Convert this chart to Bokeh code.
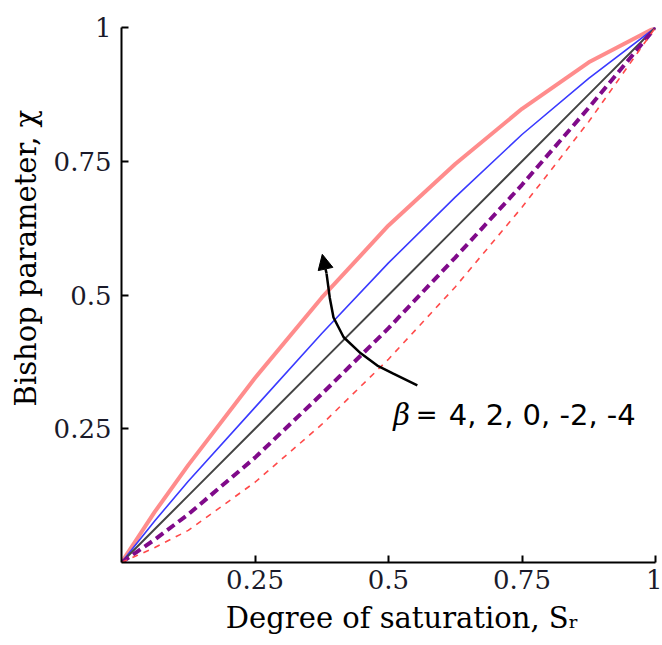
from bokeh.plotting import figure
from bokeh.models import FixedTicker, Label, Arrow, NormalHead, Range1d
from bokeh.embed import file_html
from bokeh.resources import INLINE

# Degree of saturation (x) and Bishop parameter (y) for beta = 4, 2, 0, -2, -4
sr = [0.0, 0.0625, 0.125, 0.25, 0.375, 0.5, 0.625, 0.75, 0.875, 1.0]
chi_b4 = [0.0, 0.095, 0.182, 0.345, 0.495, 0.63, 0.745, 0.848, 0.935, 1.0]
chi_b2 = [0.0, 0.078, 0.152, 0.29, 0.428, 0.56, 0.683, 0.80, 0.905, 1.0]
chi_b0 = [0.0, 0.0625, 0.125, 0.25, 0.375, 0.5, 0.625, 0.75, 0.875, 1.0]
chi_bm2 = [0.0, 0.043, 0.09, 0.196, 0.315, 0.438, 0.57, 0.706, 0.85, 1.0]
chi_bm4 = [0.0, 0.028, 0.06, 0.15, 0.258, 0.38, 0.515, 0.664, 0.824, 1.0]

tick_vals = [0.25, 0.5, 0.75, 1.0]
tick_text = ["0.25", "0.5", "0.75", "1"]

# annotation arrow path
arrow_x = [0.554, 0.509, 0.479, 0.448, 0.416, 0.397, 0.390, 0.384]
arrow_y = [0.331, 0.353, 0.368, 0.391, 0.421, 0.458, 0.495, 0.540]

p = figure(width=662, height=645, output_backend="svg", toolbar_location=None,
           x_range=Range1d(0, 1), y_range=Range1d(0, 1),
           min_border_left=121, min_border_right=7, min_border_top=27, min_border_bottom=83)
p.outline_line_color = None
p.xgrid.visible = False
p.ygrid.visible = False
p.background_fill_color = "white"

p.line(sr, chi_b4, line_color="#ff8080", line_width=4, line_alpha=0.9)
p.line(sr, chi_b2, line_color="#3a3aff", line_width=1.6)
p.line(sr, chi_b0, line_color="#444444", line_width=2)
p.line(sr, chi_bm2, line_color="#800a8a", line_width=4, line_dash="9 5")
p.line(sr, chi_bm4, line_color="#ff4a4a", line_width=1.6, line_dash="6 6")

p.line(arrow_x, arrow_y, line_color="black", line_width=2.5)
p.add_layout(Arrow(end=NormalHead(size=15, fill_color="black", line_color="black"),
                   x_start=arrow_x[-1], y_start=arrow_y[-1],
                   x_end=0.376, y_end=0.576, line_color="black", line_width=2.5))

for ax in (p.xaxis[0], p.yaxis[0]):
    ax.ticker = FixedTicker(ticks=tick_vals)
    ax.major_label_overrides = dict(zip(tick_vals, tick_text))
    ax.major_tick_in = 7
    ax.major_tick_out = 0
    ax.minor_tick_in = 0
    ax.minor_tick_out = 0
    ax.axis_line_width = 2
    ax.major_tick_line_width = 2
    ax.axis_line_color = "black"
    ax.major_tick_line_color = "black"
    ax.major_label_text_font = "DejaVu Serif"
    ax.major_label_text_font_size = "26px"
    ax.major_label_text_color = "#1a1a2a"
    ax.axis_label_text_font = "DejaVu Serif"
    ax.axis_label_text_font_style = "normal"
    ax.axis_label_text_color = "black"

p.xaxis.major_label_standoff = 7
p.yaxis.major_label_standoff = 10

nb = "\u00a0"
p.xaxis.axis_label = nb * 3 + "Degree of saturation, Sᵣ"
p.xaxis.axis_label_text_font_size = "29px"
p.xaxis.axis_label_standoff = 9
p.yaxis.axis_label = nb * 8 + "Bishop parameter, χ"
p.yaxis.axis_label_text_font_size = "29px"
p.yaxis.axis_label_standoff = 8

# annotation text
p.add_layout(Label(x=0.509, y=0.275, text="β", text_font="DejaVu Serif",
                   text_baseline="alphabetic", text_font_style="italic",
                   text_font_size="29px", text_color="black"))
p.add_layout(Label(x=0.551, y=0.275, text="=", text_font="DejaVu Sans",
                   text_baseline="alphabetic", text_font_size="26px", text_color="black"))
p.add_layout(Label(x=0.613, y=0.275, text="4, 2, 0, -2, -4", text_font="DejaVu Sans",
                   text_baseline="alphabetic", text_font_size="29px", text_color="black"))

open("out.html", "w").write(file_html(p, INLINE))
